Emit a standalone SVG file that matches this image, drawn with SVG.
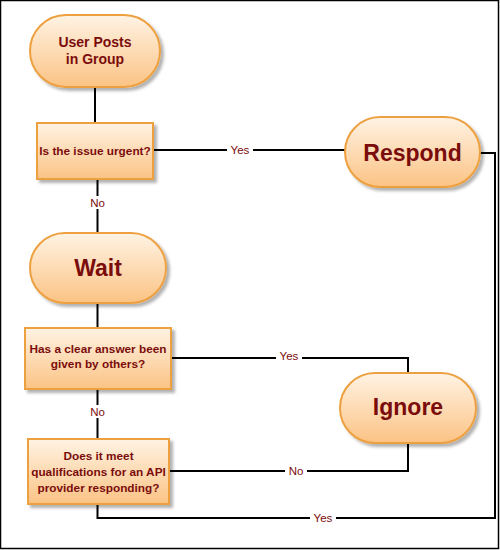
<svg xmlns="http://www.w3.org/2000/svg" width="500" height="550" viewBox="0 0 500 550">
<style>
.node{fill:url(#g);stroke:#eda040;stroke-width:2;filter:url(#sh)}
.t{font-family:"Liberation Sans",Arial,sans-serif;font-weight:bold;fill:#7b0c0c;text-anchor:middle}
.big{font-size:23px}
.mid{font-size:14px}
.sm{font-size:11.8px}
.conn{fill:none;stroke:#000;stroke-width:2}
.lbl{font-family:"Liberation Sans",Arial,sans-serif;font-size:11.5px;fill:#7b0c0c;text-anchor:middle}
.lb{fill:#fff}
</style>
<defs>
<linearGradient id="g" x1="0" y1="0" x2="0" y2="1">
<stop offset="0" stop-color="#fff3e4"/>
<stop offset="1" stop-color="#fbc384"/>
</linearGradient>
<filter id="sh" x="-10%" y="-10%" width="130%" height="140%">
<feDropShadow dx="3" dy="3" stdDeviation="1.5" flood-color="#000" flood-opacity="0.3"/>
</filter>
</defs>
<rect x="0.5" y="0.5" width="498" height="548" fill="#fff" stroke="#000" stroke-width="1.5"/>
<g id="connectors">
<path class="conn" d="M95 87V123"/>
<path class="conn" d="M153 150H345"/>
<path class="conn" d="M97.5 179V233"/>
<path class="conn" d="M97.5 303V328"/>
<path class="conn" d="M171 358H408V373"/>
<path class="conn" d="M97.5 389V439"/>
<path class="conn" d="M169 471H408V443"/>
<path class="conn" d="M480 153H495V518H97.5V504"/>
<rect class="lb" x="227" y="143" width="26" height="13"/>
<text class="lbl" x="240" y="154">Yes</text>
<rect class="lb" x="87" y="196" width="21" height="13"/>
<text class="lbl" x="97.5" y="207">No</text>
<rect class="lb" x="276" y="349" width="26" height="13"/>
<text class="lbl" x="289" y="360">Yes</text>
<rect class="lb" x="87" y="405" width="21" height="13"/>
<text class="lbl" x="97.5" y="416">No</text>
<rect class="lb" x="285" y="464" width="22" height="13"/>
<text class="lbl" x="296" y="475">No</text>
<rect class="lb" x="310" y="511" width="26" height="13"/>
<text class="lbl" x="323" y="522">Yes</text>
</g>
<g id="start">
<rect class="node" x="30" y="15" width="130" height="72" rx="36"/>
<text class="t mid" x="95" y="47">User Posts</text>
<text class="t mid" x="95" y="64">in Group</text>
</g>
<g id="urgent">
<rect class="node" x="37" y="123" width="116" height="56"/>
<text class="t sm" x="95" y="155">Is the issue urgent?</text>
</g>
<g id="respond">
<rect class="node" x="345" y="117" width="135" height="70" rx="35"/>
<text class="t big" x="412.5" y="161">Respond</text>
</g>
<g id="wait">
<rect class="node" x="30" y="233" width="136" height="70" rx="35"/>
<text class="t big" x="98" y="276">Wait</text>
</g>
<g id="answered">
<rect class="node" x="25" y="328" width="146" height="61"/>
<text class="t sm" x="98" y="353">Has a clear answer been</text>
<text class="t sm" x="98" y="368">given by others?</text>
</g>
<g id="ignore">
<rect class="node" x="340" y="373" width="136" height="70" rx="35"/>
<text class="t big" x="408" y="415">Ignore</text>
</g>
<g id="qualifies">
<rect class="node" x="28" y="439" width="141" height="65"/>
<text class="t sm" x="98.5" y="460">Does it meet</text>
<text class="t sm" x="98.5" y="476">qualifications for an API</text>
<text class="t sm" x="98.5" y="492">provider responding?</text>
</g>
</svg>
